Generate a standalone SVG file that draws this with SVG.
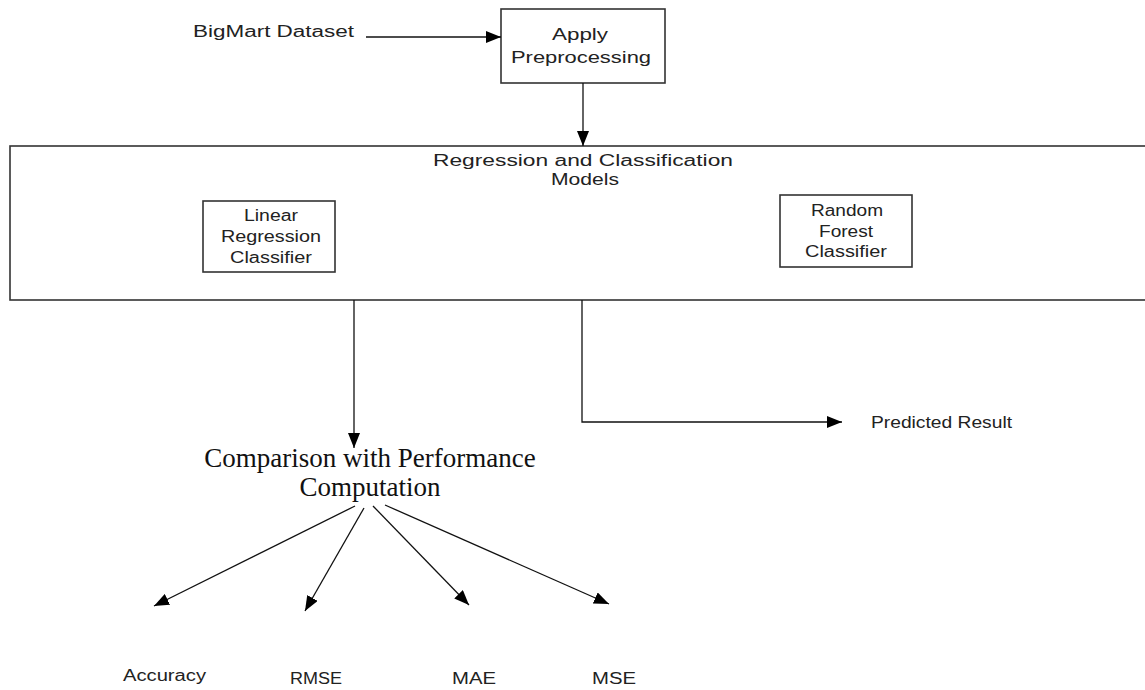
<svg xmlns="http://www.w3.org/2000/svg" width="1145" height="690" viewBox="0 0 1145 690">
<style>
.box{fill:#fff;stroke:#333;stroke-width:1.6}
.t{font-family:"Liberation Sans",Arial,sans-serif;font-size:16px;fill:#222;text-anchor:middle}
.l{font-family:"Liberation Sans",Arial,sans-serif;font-size:16px;fill:#222}
.s{font-family:"Liberation Serif","Times New Roman",serif;font-size:27px;fill:#111;text-anchor:middle}
.c{fill:none;stroke:#111;stroke-width:1.3}
</style>
<defs>
<marker id="a" viewBox="0 0 15 12" refX="15" refY="6" markerWidth="15" markerHeight="12" markerUnits="userSpaceOnUse" orient="auto">
<path d="M0,0 L15,6 L0,12 z" fill="#000"/>
</marker>
</defs>
<rect width="1145" height="690" fill="#fff"/>
<g id="dataset"><text class="l" x="193" y="37" textLength="161" lengthAdjust="spacingAndGlyphs">BigMart Dataset</text></g>
<g id="preprocessing">
<rect class="box" x="501" y="9" width="164" height="74"/>
<text class="t" x="580" y="40" textLength="56" lengthAdjust="spacingAndGlyphs">Apply</text>
<text class="t" x="581" y="63" textLength="140" lengthAdjust="spacingAndGlyphs">Preprocessing</text>
</g>
<g id="models">
<rect class="box" x="10" y="146" width="1145" height="154"/>
<text class="t" x="583" y="166" textLength="300" lengthAdjust="spacingAndGlyphs">Regression and Classification</text>
<text class="t" x="585" y="185" textLength="68" lengthAdjust="spacingAndGlyphs">Models</text>
</g>
<g id="linear">
<rect class="box" x="203" y="201" width="132" height="71"/>
<text class="t" x="271" y="221" textLength="54" lengthAdjust="spacingAndGlyphs">Linear</text>
<text class="t" x="271" y="242" textLength="100" lengthAdjust="spacingAndGlyphs">Regression</text>
<text class="t" x="271" y="263" textLength="82" lengthAdjust="spacingAndGlyphs">Classifier</text>
</g>
<g id="forest">
<rect class="box" x="780" y="195" width="132" height="72"/>
<text class="t" x="847" y="216" textLength="72" lengthAdjust="spacingAndGlyphs">Random</text>
<text class="t" x="846" y="237" textLength="54" lengthAdjust="spacingAndGlyphs">Forest</text>
<text class="t" x="846" y="257" textLength="82" lengthAdjust="spacingAndGlyphs">Classifier</text>
</g>
<g id="predicted"><text class="l" x="871" y="428" textLength="141" lengthAdjust="spacingAndGlyphs">Predicted Result</text></g>
<g id="comparison">
<text class="s" x="370" y="467">Comparison with Performance</text>
<text class="s" x="370" y="496">Computation</text>
</g>
<g id="accuracy"><text class="l" x="123" y="681" textLength="83" lengthAdjust="spacingAndGlyphs">Accuracy</text></g>
<g id="rmse"><text class="l" x="290" y="684" textLength="52" lengthAdjust="spacingAndGlyphs">RMSE</text></g>
<g id="mae"><text class="l" x="452" y="684" textLength="44" lengthAdjust="spacingAndGlyphs">MAE</text></g>
<g id="mse"><text class="l" x="592" y="684" textLength="44" lengthAdjust="spacingAndGlyphs">MSE</text></g>
<g id="connectors">
<path class="c" d="M366,37 L501,37" marker-end="url(#a)"/>
<path class="c" d="M583,83 L583,146" marker-end="url(#a)"/>
<path class="c" d="M354,300 L354,448" marker-end="url(#a)"/>
<path class="c" d="M582,300 L582,422 L842,422" marker-end="url(#a)"/>
<path class="c" d="M355,506 L154,606" marker-end="url(#a)"/>
<path class="c" d="M364,508 L305,611" marker-end="url(#a)"/>
<path class="c" d="M373,506 L469,605" marker-end="url(#a)"/>
<path class="c" d="M385,505 L609,604" marker-end="url(#a)"/>
</g>
</svg>
